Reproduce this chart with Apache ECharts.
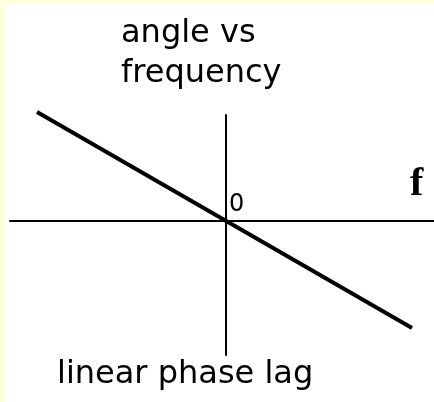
<!DOCTYPE html>
<html>
<head>
<meta charset="utf-8">
<script src="https://cdn.jsdelivr.net/npm/echarts@6/dist/echarts.min.js"></script>
<style>
  html, body { margin: 0; padding: 0; background: #fff; }
  #chart { width: 434px; height: 402px; }
</style>
</head>
<body>
<div id="chart"></div>
<script>
// straight line through the origin: phase falls as frequency rises
const frequency = [-189, 186];
const phase = [109, -107];

const titleLines = ['angle vs', 'frequency'];
const caption = 'linear phase lag';
const originLabel = '0';
const xName = 'f';

const chart = echarts.init(document.getElementById('chart'));

const option = {
  backgroundColor: '#ffffff',
  animation: false,
  title: [
    {
      text: titleLines.join('\n'),
      left: 121,
      top: 14,
      padding: 0,
      textStyle: { fontFamily: 'DejaVu Sans', fontSize: 32, fontWeight: 'normal', color: '#000', lineHeight: 40 }
    },
    {
      text: caption,
      left: 57,
      top: 355,
      padding: 0,
      textStyle: { fontFamily: 'DejaVu Sans', fontSize: 32, fontWeight: 'normal', color: '#000', lineHeight: 40 }
    }
  ],
  grid: { left: 10, right: 0, top: 115, bottom: 47 },
  xAxis: {
    type: 'value',
    min: -216,
    max: 208,
    axisLine: { onZero: true, lineStyle: { color: '#000', width: 2 } },
    axisTick: { show: false },
    axisLabel: { show: false },
    splitLine: { show: false }
  },
  yAxis: {
    type: 'value',
    min: -134,
    max: 106,
    axisLine: { show: true, onZero: true, lineStyle: { color: '#000', width: 2 } },
    axisTick: { show: false },
    axisLabel: { show: false },
    splitLine: { show: false }
  },
  series: [
    {
      type: 'line',
      data: frequency.map((f, i) => [f, phase[i]]),
      symbol: 'none',
      clip: false,
      lineStyle: { color: '#000', width: 4 }
    }
  ],
  graphic: [
    { type: 'rect', shape: { x: 0, y: 0, width: 434, height: 4 }, style: { fill: '#ffffe0' }, silent: true },
    { type: 'rect', shape: { x: 0, y: 0, width: 6, height: 402 }, style: { fill: '#ffffe0' }, silent: true },
    {
      type: 'text', left: 229, top: 193,
      style: { text: originLabel, fontFamily: 'DejaVu Sans', fontSize: 24, fill: '#000' }
    },
    {
      type: 'text', left: 410, top: 165,
      style: { text: xName, fontFamily: 'Liberation Serif', fontWeight: 'bold', fontSize: 40, fill: '#000' }
    }
  ]
};

chart.setOption(option);
</script>
</body>
</html>
